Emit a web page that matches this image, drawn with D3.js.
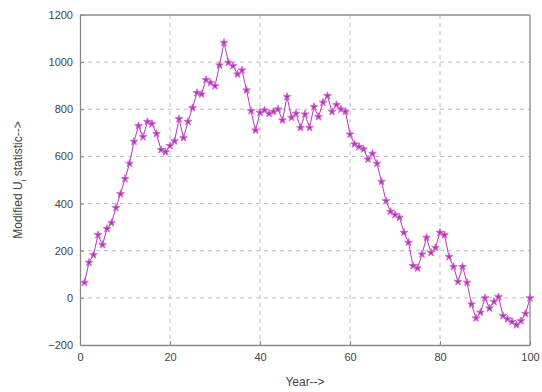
<!DOCTYPE html>
<html>
<head>
<meta charset="utf-8">
<script src="https://cdn.jsdelivr.net/npm/d3@7"></script>
<style>
  body { margin: 0; background: #fff; }
  text { font-family: "Liberation Sans", Arial, sans-serif; }
</style>
</head>
<body>
<svg id="chart" width="542" height="392"></svg>
<script>
// values, one per year 1..100
const years = d3.range(1, 101);
const uValues = [
  65, 150, 182, 267, 225, 293, 318, 382, 441, 505,
  570, 663, 730, 683, 747, 738, 696, 628, 619, 645,
  665, 759, 679, 748, 806, 870, 864, 925, 913, 899,
  987, 1083, 998, 984, 949, 966, 881, 793, 711, 786,
  796, 782, 790, 800, 754, 853, 765, 782, 722, 779,
  722, 810, 768, 829, 857, 790, 819, 800, 790, 694,
  652, 641, 631, 588, 612, 570, 493, 411, 366, 352,
  341, 277, 235, 136, 126, 185, 256, 192, 213, 277,
  267, 174, 132, 69, 132, 65, -27, -86, -62, -1,
  -44, -16, 4, -76, -90, -101, -115, -98, -67, -1
];
const xTicks = [0, 20, 40, 60, 80, 100];
const yTicks = [-200, 0, 200, 400, 600, 800, 1000, 1200];

const margin = { top: 15, right: 12, bottom: 47, left: 80 };
const width = 542 - margin.left - margin.right;
const height = 392 - margin.top - margin.bottom;

const svg = d3.select("#chart");
const g = svg.append("g").attr("transform", `translate(${margin.left},${margin.top})`);

const x = d3.scaleLinear().domain([0, 100]).range([0, width]);
const y = d3.scaleLinear().domain([-200, 1200]).range([height, 0]);

// grid
g.selectAll(".vgrid")
  .data(xTicks.slice(1, -1))
  .enter()
  .append("line")
  .attr("x1", (d) => x(d)).attr("x2", (d) => x(d))
  .attr("y1", 0).attr("y2", height)
  .attr("stroke", "#bdbdbd")
  .attr("stroke-dasharray", "4,4");

g.selectAll(".hgrid")
  .data(yTicks.slice(1, -1))
  .enter()
  .append("line")
  .attr("x1", 0).attr("x2", width)
  .attr("y1", (d) => y(d)).attr("y2", (d) => y(d))
  .attr("stroke", "#bdbdbd")
  .attr("stroke-dasharray", "4,4");

// axes
const xAxis = g.append("g")
  .attr("transform", `translate(0,${height})`)
  .call(d3.axisBottom(x).tickValues(xTicks).tickFormat(d3.format("d"))
    .tickSizeInner(-4).tickSizeOuter(0).tickPadding(8));
const yAxis = g.append("g")
  .call(d3.axisLeft(y).tickValues(yTicks).tickFormat(d3.format("d"))
    .tickSizeInner(-4).tickSizeOuter(0).tickPadding(7));

[xAxis, yAxis].forEach((a) => {
  a.select(".domain").attr("stroke", "#8a8a8a").attr("stroke-width", 1.3);
  a.selectAll(".tick line").attr("stroke", "#8a8a8a");
  a.selectAll(".tick text").attr("fill", "#444").style("font-size", "11px");
});

// box top/right
g.append("line").attr("x1", 0).attr("x2", width).attr("y1", 0).attr("y2", 0)
  .attr("stroke", "#8a8a8a").attr("stroke-width", 1.3);
g.append("line").attr("x1", width).attr("x2", width).attr("y1", 0).attr("y2", height)
  .attr("stroke", "#8a8a8a").attr("stroke-width", 1.3);

// series
const line = d3.line()
  .x((d, i) => x(years[i]))
  .y((d) => y(d));

g.append("path")
  .datum(uValues)
  .attr("fill", "none")
  .attr("stroke", "#b43ab4")
  .attr("stroke-width", 1)
  .attr("d", line);

const star = d3.symbol().type(d3.symbolStar).size(18);
g.selectAll(".pt")
  .data(uValues)
  .enter()
  .append("path")
  .attr("transform", (d, i) => `translate(${x(years[i])},${y(d)})`)
  .attr("d", star)
  .attr("fill", "#8e4a96")
  .attr("stroke", "#e35ee3")
  .attr("stroke-width", 1);

// labels
svg.append("text")
  .attr("x", margin.left + width / 2)
  .attr("y", 386)
  .attr("text-anchor", "middle")
  .attr("fill", "#444")
  .style("font-size", "12px")
  .text("Year-->");

const yl = svg.append("text")
  .attr("transform", `translate(22,${margin.top + height / 2}) rotate(-90)`)
  .attr("text-anchor", "middle")
  .attr("fill", "#444")
  .style("font-size", "12px");
yl.append("tspan").text("Modified U");
yl.append("tspan").attr("dy", 4).style("font-size", "8px").text("i");
yl.append("tspan").attr("dy", -4).text(" statistic-->");
</script>
</body>
</html>
